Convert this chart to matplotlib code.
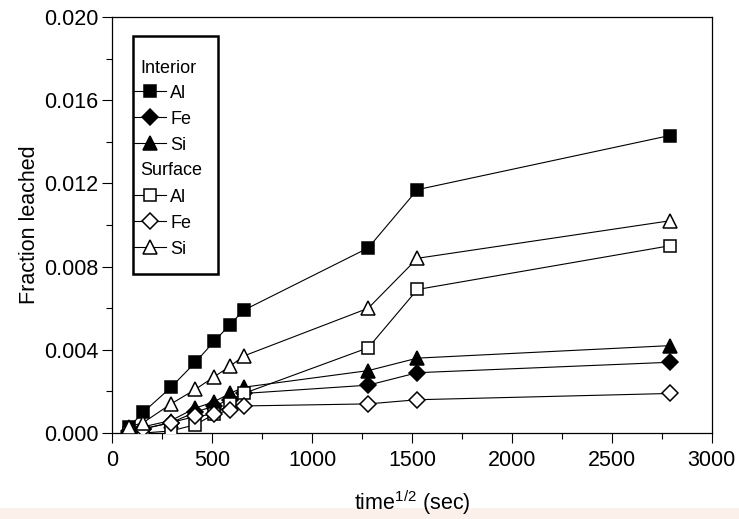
import matplotlib
matplotlib.use('Agg')
import matplotlib.pyplot as plt
from matplotlib.lines import Line2D
from matplotlib.patches import Rectangle
from matplotlib.ticker import MultipleLocator, FormatStrFormatter

# ---- data ----
time_sqrt = [85, 155, 294, 416, 509, 588, 657, 1281, 1527, 2789]
interior_al = [0.0003, 0.0010, 0.0022, 0.0034, 0.0044, 0.0052, 0.0059, 0.0089, 0.0117, 0.0143]
interior_fe = [0.0001, 0.0002, 0.0005, 0.0010, 0.0013, 0.0016, 0.0019, 0.0023, 0.0029, 0.0034]
interior_si = [0.0002, 0.0003, 0.0006, 0.0012, 0.0015, 0.0019, 0.0022, 0.0030, 0.0036, 0.0042]
surface_al = [0.0000, 0.0000, 0.0001, 0.0004, 0.0009, 0.0014, 0.0019, 0.0041, 0.0069, 0.0090]
surface_fe = [0.0000, 0.0002, 0.0005, 0.0008, 0.0009, 0.0011, 0.0013, 0.0014, 0.0016, 0.0019]
surface_si = [0.0003, 0.0005, 0.0014, 0.0021, 0.0027, 0.0032, 0.0037, 0.0060, 0.0084, 0.0102]
element_labels = ["Al", "Fe", "Si"]
group_labels = ["Interior", "Surface"]
x_ticks = [0, 500, 1000, 1500, 2000, 2500, 3000]
y_ticks = [0.000, 0.004, 0.008, 0.012, 0.016, 0.020]

plt.rcParams['font.family'] = ['Liberation Sans', 'DejaVu Sans']
plt.rcParams['mathtext.fontset'] = 'custom'
plt.rcParams['mathtext.rm'] = 'Liberation Sans'
plt.rcParams['mathtext.it'] = 'Liberation Sans:italic'
plt.rcParams['mathtext.bf'] = 'Liberation Sans:bold'

fig = plt.figure(figsize=(7.39, 5.19), dpi=100)

# faint band at the bottom of the image (behind everything)
fig.patches.append(Rectangle((0, 0), 1, 0.021, transform=fig.transFigure,
                             facecolor='#fcf1ea', edgecolor='none', zorder=-5))

ax = fig.add_axes([0.152, 0.1657, 0.811, 0.8015])
ax.set_zorder(1)
ax.patch.set_alpha(0)

styles = {'s': 9.0, 'D': 7.7, '^': 10.5}
series = [
    (interior_al, 's', 'black'),
    (interior_fe, 'D', 'black'),
    (interior_si, '^', 'black'),
    (surface_al, 's', 'white'),
    (surface_fe, 'D', 'white'),
    (surface_si, '^', 'white'),
]
handles = []
for i, (vals, mk, fc) in enumerate(series):
    ln, = ax.plot(time_sqrt, vals, color='black', linewidth=0.8, marker=mk,
                  markersize=styles[mk], markerfacecolor=fc, markeredgecolor='black',
                  markeredgewidth=1.1, zorder=3 + i)
    handles.append(ln)

ax.set_xlim(0, 3000)
ax.set_ylim(0, 0.020)
ax.set_xticks(x_ticks)
ax.set_yticks(y_ticks)
ax.xaxis.set_minor_locator(MultipleLocator(250))
ax.yaxis.set_minor_locator(MultipleLocator(0.002))
ax.yaxis.set_major_formatter(FormatStrFormatter('%.3f'))
ax.tick_params(which='major', direction='out', length=7, width=0.8, labelsize=15.5, pad=3)
ax.tick_params(axis='x', which='major', pad=5)
ax.tick_params(which='minor', direction='out', length=4, width=0.8)
for sp in ax.spines.values():
    sp.set_linewidth(0.9)

ax.set_xlabel('time$^{1/2}$ (sec)', fontsize=15.5, labelpad=13)
ax.set_ylabel('Fraction leached', fontsize=15.5, labelpad=3)

# legend (header rows kept as blank labels so rows stay evenly spaced)
blank = Line2D([], [], linestyle='none')
leg_handles = [blank] + handles[:3] + [blank] + handles[3:]
leg_labels = [' '] + element_labels + [' '] + element_labels
leg = ax.legend(leg_handles, leg_labels, loc='upper left', bbox_to_anchor=(0.036, 0.90),
                frameon=False, fontsize=13, handlelength=1.8, handletextpad=0.2,
                labelspacing=0.5, borderpad=0, borderaxespad=0)
leg.set_zorder(20)
ax.text(0.047, 0.877, group_labels[0], transform=ax.transAxes, fontsize=13,
        ha='left', va='center', zorder=21)
ax.text(0.047, 0.630, group_labels[1], transform=ax.transAxes, fontsize=13,
        ha='left', va='center', zorder=21)
ax.add_patch(Rectangle((0.035, 0.382), 0.142, 0.572, transform=ax.transAxes,
                       fill=False, edgecolor='black', linewidth=1.8, zorder=22))

fig.savefig('out.png', dpi=100)
